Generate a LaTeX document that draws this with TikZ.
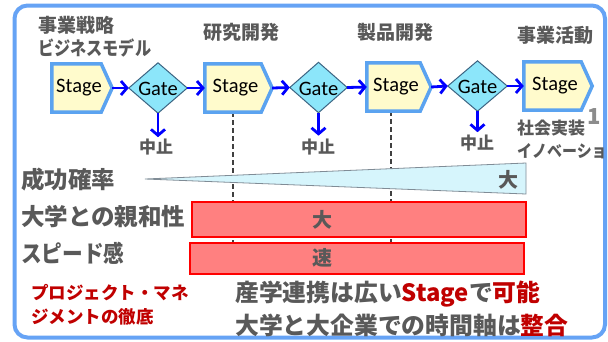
\documentclass[tikz,border=0pt]{standalone}
\usepackage{fontspec}
\setmainfont{Noto Sans CJK JP}
\newfontfamily\latinf{Carlito}
\usetikzlibrary{arrows.meta}
\definecolor{frameblue}{RGB}{102,163,245}
\definecolor{stageborder}{RGB}{91,163,240}
\definecolor{stagefill}{RGB}{255,251,204}
\definecolor{gatefill}{RGB}{140,230,250}
\definecolor{gateborder}{RGB}{60,100,130}
\definecolor{flowblue}{RGB}{0,0,255}
\definecolor{textgray}{RGB}{89,89,89}
\definecolor{darkred}{RGB}{192,0,0}
\definecolor{barfill}{RGB}{255,128,128}
\definecolor{barborder}{RGB}{255,0,0}
\definecolor{wedgefill}{RGB}{214,245,252}
\definecolor{wedgeborder}{RGB}{128,140,150}
\tikzset{
  stagebox/.style={draw=stageborder, fill=stagefill, line width=3.5pt, line join=miter},
  gatebox/.style={draw=gateborder, fill=gatefill, line width=1pt, line join=miter},
  anchorbox/.style={inner sep=0pt, draw=none},
  shapetext/.style={font=\latinf\fontsize{20.5}{22}\selectfont, text=black, inner sep=0pt},
  flow/.style={draw=flowblue, line width=2.8pt, -{Straight Barb[length=6pt,width=14pt,line width=2.8pt]}},
  head/.style={font=\bfseries\fontsize{19}{21}\selectfont, text=textgray, inner sep=0pt},
  small/.style={font=\bfseries\fontsize{17}{19}\selectfont, text=textgray, inner sep=0pt},
  rowlabel/.style={font=\bfseries\fontsize{23.5}{25}\selectfont, text=textgray, inner sep=0pt, anchor=west},
  bar/.style={draw=barborder, fill=barfill, line width=1.5pt},
  bartext/.style={font=\bfseries\fontsize{20}{22}\selectfont, text=textgray, inner sep=0pt},
  redtext/.style={font=\bfseries\fontsize{17.5}{19}\selectfont, text=darkred, inner sep=0pt, anchor=west},
  bottomtext/.style={font=\bfseries\fontsize{23.8}{26}\selectfont, text=textgray, inner sep=0pt, anchor=west},
  guide/.style={draw=black!75, line width=1.4pt, dash pattern=on 5pt off 3pt}
}
\begin{document}
\begin{tikzpicture}[x=1pt,y=-1pt]
\useasboundingbox (0,0) rectangle (608,341);
\clip (0,0) rectangle (608,341);
\fill[white] (0,0) rectangle (608,341);
% frame
\draw[frameblue, line width=4pt, rounded corners=13pt] (14.5,5.5) rectangle (605,337.5);

% headings
\node[head, anchor=west] (h1a) at (38,25) {事業戦略};
\node[head, anchor=west] (h1b) at (38,48) {\scalebox{0.85}[1]{ビジネスモデル}};
\node[head] (h2) at (241,32) {研究開発};
\node[head] (h3) at (395,32) {製品開発};
\node[head] (h4) at (555,35) {事業活動};

% dashed guide ends
\coordinate (d2end) at (233,243);
\coordinate (d3end) at (391,243);

% anchor nodes
\node[anchorbox, minimum width=60pt, minimum height=48pt] (s1) at (82,88) {};
\node[anchorbox, minimum width=67pt, minimum height=48pt] (s2) at (238.5,88) {};
\node[anchorbox, minimum width=64pt, minimum height=48pt] (s3) at (399,87) {};
\node[anchorbox, minimum width=68pt, minimum height=48pt] (s4) at (558,86) {};
\node[anchorbox, minimum width=58pt, minimum height=50pt] (g1) at (158,88) {};
\node[anchorbox, minimum width=57pt, minimum height=50pt] (g2) at (318.5,87.5) {};
\node[anchorbox, minimum width=59pt, minimum height=50pt] (g3) at (477.5,86) {};

\draw[guide] (s2.south) ++(-5.5,0) coordinate (d2start) -- (d2end);
\draw[guide] (s3.south) ++(-8,0) coordinate (d3start) -- (d3end);

% stages
\foreach \s in {s1,s2,s3,s4}{
  \draw[stagebox] (\s.north west) -- ([xshift=-11pt]\s.north east) -- (\s.east) -- ([xshift=-11pt]\s.south east) -- (\s.south west) -- cycle;
  \node[shapetext] at ([xshift=-3pt]\s.center) {Stage};
}
% gates
\foreach \g in {g1,g2,g3}{
  \draw[gatebox] (\g.west) -- (\g.north) -- (\g.east) -- (\g.south) -- cycle;
  \node[shapetext] at ([yshift=-1pt]\g.center) {Gate};
}

% flow arrows
\draw[flow] (s1.east) -- (g1.west);
\draw[flow] (g1.east) -- (s2.west);
\draw[flow] (s2.east) -- (g2.west);
\draw[flow] (g2.east) -- (s3.west);
\draw[flow] (s3.east) -- (g3.west);
\draw[flow] (g3.east) -- (s4.west);

% abort arrows
\node[small] (a1) at (156,147) {中止};
\node[small] (a2) at (318,147) {中止};
\node[small] (a3) at (477,143) {中止};
\draw[flow] (g1.south) -- ++(0,24);
\draw[flow] (g2.south) -- ++(0,23);
\draw[flow] (g3.south) -- ++(0,21);

% right labels
\node[font=\bfseries\fontsize{22}{24}\selectfont, text=black!45, inner sep=0pt] (pg) at (594,117) {1};
\node[small, anchor=west] (r1) at (517,128) {社会実装};
\node[small, anchor=west] (r2) at (517,151) {\scalebox{0.88}[1]{イノベーション}};

% row labels
\node[rowlabel] (l1) at (21,180) {成功確率};
\node[rowlabel] (l2) at (21,217) {大学との親和性};
\node[rowlabel] (l3) at (21,253) {\scalebox{0.88}[1]{スピード感}};

% wedge
\draw[draw=wedgeborder, fill=wedgefill, line width=0.8pt] (145,179) -- (526,163) -- (526,194) -- cycle;
\node[bartext] (w1) at (508,180) {大};

% bars
\draw[bar] (192,202) rectangle (526,237);
\node[bartext] (b1) at (322,220) {大};
\draw[bar] (190,243) rectangle (524,274);
\node[bartext] (b2) at (322,258) {速};

% bottom texts
\node[redtext] (p1) at (31,293) {プロジェクト・マネ};
\node[redtext] (p2) at (31,317) {ジメントの徹底};
\node[bottomtext] (t1) at (235,294) {産学連携は広い\textcolor{darkred}{Stage}で\textcolor{darkred}{可能}};
\node[bottomtext] (t2) at (235,325) {大学と大企業での時間軸は\textcolor{darkred}{整合}};
\end{tikzpicture}
\end{document}
